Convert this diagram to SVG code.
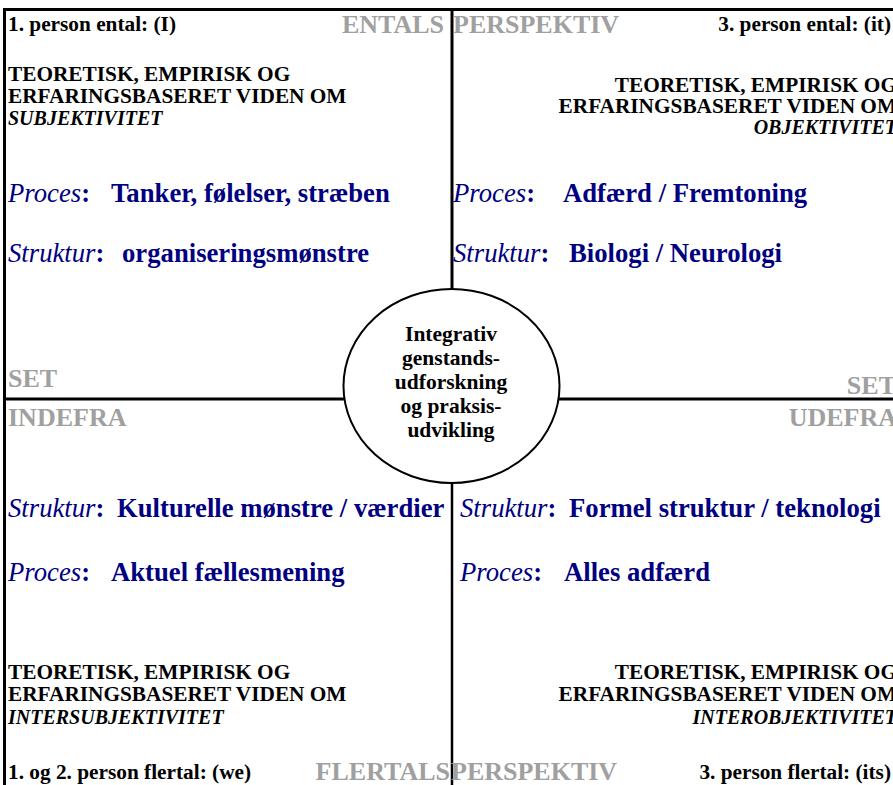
<svg xmlns="http://www.w3.org/2000/svg" width="893" height="785" viewBox="0 0 893 785">
<style>
text{font-family:"Liberation Serif","Times New Roman",serif;}
.s{font-size:21.3px;font-weight:bold;fill:#000;}
.si{font-style:italic;font-size:20px;}
.g{font-size:26px;font-weight:bold;fill:#a0a0a0;}
.n{font-size:26.7px;font-weight:bold;fill:#000080;}
.it{font-style:italic;font-weight:normal;}
.c{font-size:21.5px;font-weight:bold;fill:#000;text-anchor:middle;}
.e{text-anchor:end;}
.ln{stroke:#000;stroke-width:3;fill:none;}
</style>
<rect width="893" height="785" fill="#fff"/>
<g id="connectors">
<line class="ln" x1="4.5" y1="8" x2="4.5" y2="785"/>
<line class="ln" x1="3" y1="9.5" x2="893" y2="9.5"/>
<line class="ln" x1="452" y1="9" x2="452" y2="289"/>
<line class="ln" x1="452" y1="483" x2="452" y2="785" style="stroke-width:2.5"/>
<line class="ln" x1="3" y1="399" x2="344" y2="399"/>
<line class="ln" x1="559" y1="399" x2="893" y2="399"/>
</g>
<g id="axis-labels">
<text class="g e" x="444" y="33">ENTALS</text>
<text class="g" x="453" y="33">PERSPEKTIV</text>
<text class="g" x="8" y="387">SET</text>
<text class="g" x="8" y="426">INDEFRA</text>
<text class="g e" x="896" y="394">SET</text>
<text class="g e" x="897" y="426">UDEFRA</text>
<text class="g e" x="450" y="780">FLERTALS</text>
<text class="g" x="451" y="780">PERSPEKTIV</text>
</g>
<g id="q-upper-left">
<text class="s" x="8" y="31">1. person ental: (I)</text>
<text class="s" x="8" y="81">TEORETISK, EMPIRISK OG</text>
<text class="s" x="8" y="103">ERFARINGSBASERET VIDEN OM</text>
<text class="s si" x="8" y="125">SUBJEKTIVITET</text>
<text class="n" x="8" y="202"><tspan class="it">Proces</tspan>:<tspan x="111">Tanker, følelser, stræben</tspan></text>
<text class="n" x="8" y="262"><tspan class="it">Struktur</tspan>:<tspan x="122">organiseringsmønstre</tspan></text>
</g>
<g id="q-upper-right">
<text class="s e" x="891" y="31">3. person ental: (it)</text>
<text class="s e" x="897" y="92">TEORETISK, EMPIRISK OG</text>
<text class="s e" x="897" y="113">ERFARINGSBASERET VIDEN OM</text>
<text class="s si e" x="897" y="134">OBJEKTIVITET</text>
<text class="n" x="453" y="202"><tspan class="it">Proces</tspan>:<tspan x="563">Adfærd / Fremtoning</tspan></text>
<text class="n" x="453" y="262"><tspan class="it">Struktur</tspan>:<tspan x="569">Biologi / Neurologi</tspan></text>
</g>
<g id="q-lower-left">
<text class="n" x="8" y="517"><tspan class="it">Struktur</tspan>:<tspan x="117">Kulturelle mønstre / værdier</tspan></text>
<text class="n" x="8" y="581"><tspan class="it">Proces</tspan>:<tspan x="111">Aktuel fællesmening</tspan></text>
<text class="s" x="8" y="679">TEORETISK, EMPIRISK OG</text>
<text class="s" x="8" y="701">ERFARINGSBASERET VIDEN OM</text>
<text class="s si" x="8" y="724">INTERSUBJEKTIVITET</text>
<text class="s" x="8" y="779">1. og 2. person flertal: (we)</text>
</g>
<g id="q-lower-right">
<text class="n" x="460" y="517"><tspan class="it">Struktur</tspan>:<tspan x="569">Formel struktur / teknologi</tspan></text>
<text class="n" x="460" y="581"><tspan class="it">Proces</tspan>:<tspan x="564">Alles adfærd</tspan></text>
<text class="s e" x="897" y="679">TEORETISK, EMPIRISK OG</text>
<text class="s e" x="897" y="701">ERFARINGSBASERET VIDEN OM</text>
<text class="s si e" x="897" y="724">INTEROBJEKTIVITET</text>
<text class="s e" x="891" y="779">3. person flertal: (its)</text>
</g>
<g id="center">
<ellipse cx="451.5" cy="386" rx="108" ry="97" fill="#fff" stroke="#000" stroke-width="2"/>
<text class="c" x="451" y="341">Integrativ</text>
<text class="c" x="451" y="365">genstands-</text>
<text class="c" x="451" y="389">udforskning</text>
<text class="c" x="451" y="413">og praksis-</text>
<text class="c" x="451" y="437">udvikling</text>
</g>
</svg>
